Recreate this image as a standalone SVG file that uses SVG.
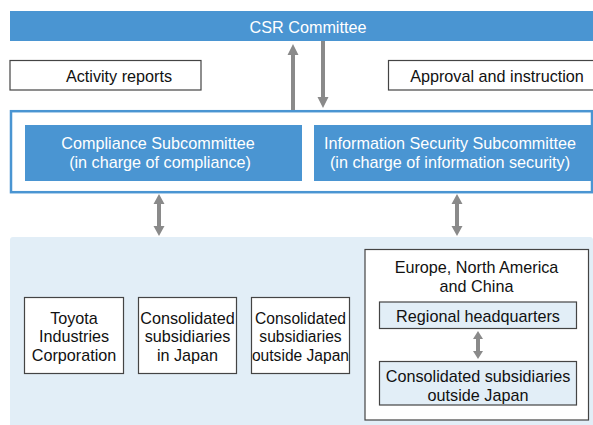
<svg xmlns="http://www.w3.org/2000/svg" width="593" height="425" viewBox="0 0 593 425">
<style>
text{font-family:"Liberation Sans",Arial,sans-serif;font-size:16.2px;text-anchor:middle}
.n{font-size:15.6px}
.w{fill:#ffffff}
.k{fill:#111111}
.blue{fill:#4a95d2}
.box{fill:#ffffff;stroke:#444444;stroke-width:1.2}
.lbox{fill:#e2eef7;stroke:#444444;stroke-width:1.2}
.arr{fill:#8a8a8a}
</style>
<rect x="0" y="0" width="593" height="425" fill="#ffffff"/>
<g id="csr-committee">
<rect class="blue" x="10" y="11" width="583" height="30"/>
<text class="w" x="308" y="32.5">CSR Committee</text>
</g>
<g id="activity-reports">
<rect class="box" x="10" y="60.5" width="191" height="29.5"/>
<text class="k" x="119" y="81.5">Activity reports</text>
</g>
<g id="approval-instruction">
<rect class="box" x="388.5" y="60.5" width="210" height="29.5"/>
<text class="k" x="497" y="81.5">Approval and instruction</text>
</g>
<g id="subcommittee-frame">
<rect x="11" y="111.2" width="581" height="81" fill="#ffffff" stroke="#4a95d2" stroke-width="2.5"/>
</g>
<g id="compliance-subcommittee">
<rect class="blue" x="25" y="125" width="277" height="56"/>
<text class="w" x="158" y="149">Compliance Subcommittee</text>
<text class="w" x="160" y="167.5">(in charge of compliance)</text>
</g>
<g id="information-security-subcommittee">
<rect class="blue" x="314" y="125" width="277" height="56"/>
<text class="w" x="450" y="149">Information Security Subcommittee</text>
<text class="w" x="450" y="167.5">(in charge of information security)</text>
</g>
<g id="group-companies-area">
<rect x="10" y="237" width="583" height="190" rx="3" fill="#e2eef7"/>
</g>
<g id="toyota-industries">
<rect class="box" x="24.5" y="297.5" width="99" height="76"/>
<text class="k" x="74" y="323.5">Toyota</text>
<text class="k" x="74" y="342">Industries</text>
<text class="k" x="74" y="360.5">Corporation</text>
</g>
<g id="subsidiaries-japan">
<rect class="box" x="138.5" y="297.5" width="98" height="76"/>
<text class="k" x="187.5" y="323.5">Consolidated</text>
<text class="k" x="187.5" y="342">subsidiaries</text>
<text class="k" x="187.5" y="360.5">in Japan</text>
</g>
<g id="subsidiaries-outside-japan">
<rect class="box" x="251.5" y="297.5" width="98" height="76"/>
<text class="k n" x="300.5" y="323.5">Consolidated</text>
<text class="k n" x="300.5" y="342">subsidiaries</text>
<text class="k n" x="300.5" y="360.5">outside Japan</text>
</g>
<g id="europe-na-china">
<rect class="box" x="365" y="249.5" width="223.5" height="170.5"/>
<text class="k" x="476.5" y="273">Europe, North America</text>
<text class="k" x="476.5" y="292">and China</text>
</g>
<g id="regional-headquarters">
<rect class="lbox" x="379.5" y="302" width="197" height="26.5"/>
<text class="k" x="478" y="321.5">Regional headquarters</text>
</g>
<g id="regional-subsidiaries">
<rect class="lbox" x="379.5" y="361.5" width="197" height="43.5"/>
<text class="k" x="478" y="381.5">Consolidated subsidiaries</text>
<text class="k" x="478" y="400.5">outside Japan</text>
</g>
<g id="connectors">
<path class="arr" d="M291,110 V55 H287.5 L293,44 L298.5,55 H295 V110 Z"/>
<path class="arr" d="M321,41 V97 H317.5 L323,108 L328.5,97 H325 V41 Z"/>
<path class="arr" d="M159,194 L164.5,204 H161 V226 H164.5 L159,236 L153.5,226 H157 V204 H153.5 Z"/>
<path class="arr" d="M457,194 L462.5,204 H459 V226 H462.5 L457,236 L451.5,226 H455 V204 H451.5 Z"/>
<path class="arr" d="M478,331 L483,339 H480 V351 H483 L478,359 L473,351 H476 V339 H473 Z"/>
</g>
</svg>
